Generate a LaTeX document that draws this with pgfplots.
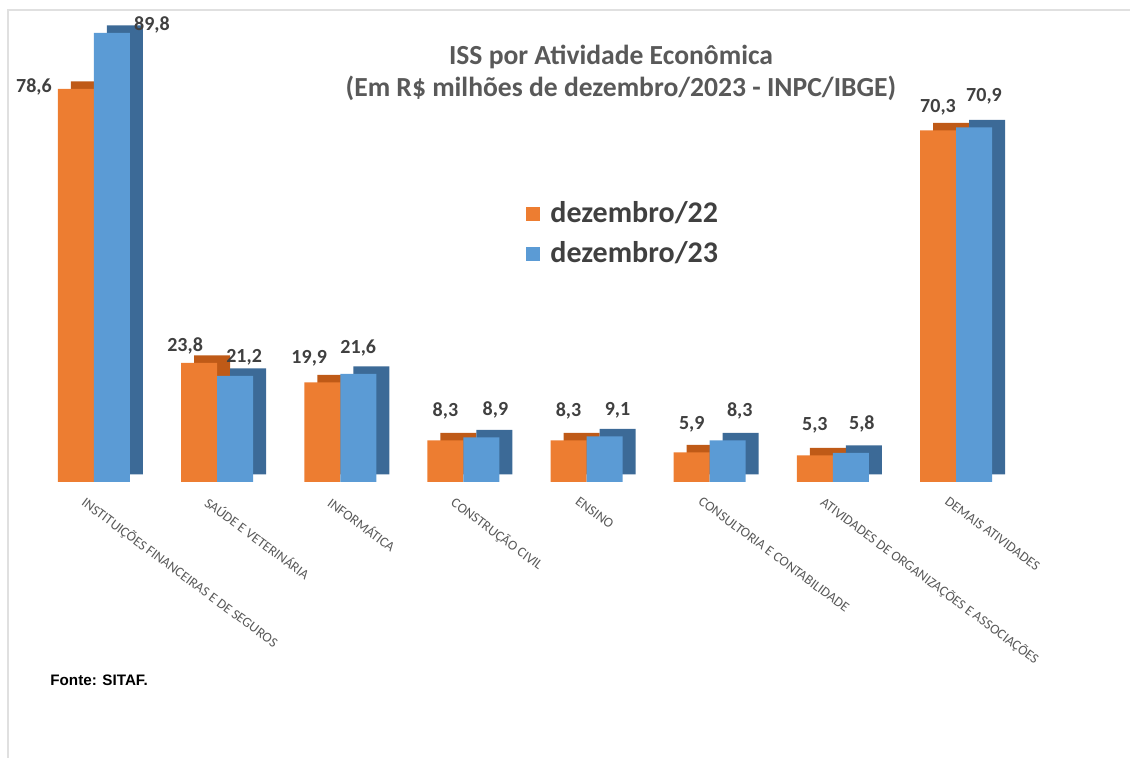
\documentclass[border=0pt]{standalone}
\usepackage{fontspec}
\setmainfont{Carlito}
\newfontfamily\arialfont{Liberation Sans}
\usepackage{pgfplots}
\usepackage{pgfplotstable}
\pgfplotsset{compat=1.18}
\definecolor{orA}{HTML}{ED7D31}
\definecolor{orD}{HTML}{BF5A17}
\definecolor{blA}{HTML}{5B9BD5}
\definecolor{blD}{HTML}{3C6A97}
\definecolor{txt}{HTML}{404040}
\definecolor{ttl}{HTML}{595959}
\pgfplotstableread{
x y dx dy
0 78.6 -21 1
1 23.8 -7 8.5
2 19.9 -6.5 12
3 8.3 0 15
4 8.3 0 15
5 5.9 0 14
6 5.3 0 15
7 70.3 0 11.5
}\dezA
\pgfplotstableread{
x y dx dy
0 89.8 20 4
1 21.2 4.5 9.5
2 21.6 0 13
3 8.9 7 14
4 9.1 6.5 13
5 8.3 6 15
6 5.8 5.5 14.5
7 70.9 5 15.5
}\dezB
\begin{document}
\begin{tikzpicture}[x=1pt,y=1pt]
\useasboundingbox (0,0) rectangle (565,379);
\draw[black!12, line width=1pt] (4,0) -- (4,374) -- (565,374);
\begin{axis}[
  at={(16.2pt,138pt)}, anchor=south west,
  scale only axis, width=492.6pt, height=237.5pt,
  xmin=-0.5, xmax=7.5, ymin=0, ymax=95,
  axis line style={draw=none},
  ytick=\empty,
  xtick={0,...,7},
  major tick length=0pt,
  xticklabels={INSTITUIÇÕES FINANCEIRAS E DE SEGUROS, SAÚDE E VETERINÁRIA, INFORMÁTICA, CONSTRUÇÃO CIVIL, ENSINO, CONSULTORIA E CONTABILIDADE, ATIVIDADES DE ORGANIZAÇÕES E ASSOCIAÇÕES, DEMAIS ATIVIDADES},
  xticklabel style={rotate=-36.6, anchor=north west, font=\fontsize{6.9}{7.5}\selectfont, text=ttl, xshift=1.3pt, yshift=-7.4pt, inner sep=0pt},
  ybar, bar width=18pt,
  clip=false,
  legend style={at={(0.495,0.608)}, anchor=north west, draw=none, fill=none,
    font=\fontsize{15}{17}\selectfont\bfseries, text=txt, row sep=4pt,
    nodes={inner xsep=5pt}},
  legend cell align=left,
  legend image code/.code={\fill[#1,draw=none] (0pt,-3.5pt) rectangle (7pt,3.5pt);},
  lbl/.style={nodes near coords={\pgfmathprintnumber[use comma,fixed,fixed zerofill,precision=1,assume math mode=true]{\pgfplotspointmeta}},
    visualization depends on={\thisrow{dx} \as \ldx},
    visualization depends on={\thisrow{dy} \as \ldy},
    every node near coord/.append style={anchor=center, xshift=\ldx pt, yshift=\ldy pt, font=\fontsize{10}{11}\selectfont\bfseries, text=txt}},
]
\addplot[fill=orD, draw=none, bar shift=-9pt, xshift=6.5pt, yshift=3.8pt, forget plot] table[x=x,y=y] {\dezA};
\addplot[fill=orA, draw=none, bar shift=-9pt, lbl] table[x=x,y=y] {\dezA};
\addlegendentry{dezembro/22}
\addplot[fill=blD, draw=none, bar shift=9pt, xshift=6.5pt, yshift=3.8pt, forget plot] table[x=x,y=y] {\dezB};
\addplot[fill=blA, draw=none, bar shift=9pt, lbl] table[x=x,y=y] {\dezB};
\addlegendentry{dezembro/23}
\end{axis}
\node[font=\fontsize{13.8}{15}\selectfont\bfseries, text=ttl] at (305.5,350.5) {ISS por Atividade Econômica};
\node[font=\fontsize{13.8}{15}\selectfont\bfseries, text=ttl] at (310.5,335) {(Em R\$ milhões de dezembro/2023 - INPC/IBGE)};
\node[anchor=west, inner sep=0pt, font=\arialfont\fontsize{7.6}{8}\selectfont\bfseries] at (25,39) {Fonte: SITAF.};
\end{tikzpicture}
\end{document}
